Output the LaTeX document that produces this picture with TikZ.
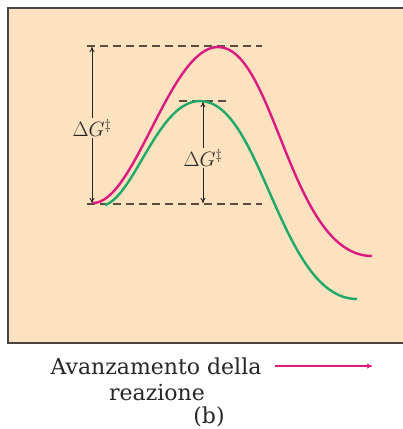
\documentclass[tikz,border=0pt]{standalone}
\usepackage{fontspec}
\newfontfamily\capfont{DejaVu Serif}
\usetikzlibrary{arrows.meta}
\definecolor{peach}{HTML}{FCE2BF}
\definecolor{framegray}{HTML}{4A4540}
\definecolor{dashbrown}{HTML}{5A4D40}
\definecolor{mag}{HTML}{DD1A82}
\definecolor{grn}{HTML}{1DAA68}
\definecolor{txt}{HTML}{262626}
\tikzset{
  levelline/.style={draw=dashbrown, line width=1.4pt, dash pattern=on 8pt off 5pt},
  curvem/.style={draw=mag, line width=2.4pt},
  curveg/.style={draw=grn, line width=2.4pt},
  dgarrow/.style={draw=txt, line width=0.9pt, -{To[length=5pt,width=5pt]}},
  dglabel/.style={inner sep=1pt, text=txt, font=\fontsize{21.5}{24}\selectfont},
  captxt/.style={inner sep=0pt, font=\capfont\fontsize{22}{26}\selectfont, text=txt}
}
\begin{document}
\begin{tikzpicture}[x=1pt,y=-1pt]
\useasboundingbox (0,0) rectangle (403,429);
\begin{scope}
\clip (0,0) rectangle (403,429);
\draw[framegray, line width=1.6pt, fill=peach] (8,8) rectangle (410,343);
\end{scope}
% level lines
\coordinate (topL) at (87,46);
\coordinate (topR) at (262,46);
\coordinate (midL) at (179,101);
\coordinate (midR) at (227,101);
\coordinate (botL) at (87,204);
\coordinate (botR) at (262,204);
\draw[levelline] (topL) -- (topR);
\draw[levelline] (midL) -- (midR);
\draw[levelline] (botL) -- (botR);
% curves
\draw[curvem] (93,203) .. controls (135,203) and (170,47) .. (218,47)
                       .. controls (275,47) and (290,256) .. (372,256);
\draw[curveg] (105,205) .. controls (135,195) and (158,101) .. (200,101)
                        .. controls (262,101) and (280,299) .. (357,299);
% delta G labels and arrows
\node[dglabel] (dgL) at (92,128) {$\Delta G^{\ddagger}$};
\node[dglabel] (dgM) at (203,158) {$\Delta G^{\ddagger}$};
\coordinate (aLt) at (92,47);
\coordinate (aLb) at (92,203);
\coordinate (aMt) at (203,102);
\coordinate (aMb) at (203,203);
\draw[dgarrow] (dgL.north) -- (aLt);
\draw[dgarrow] (dgL.south) -- (aLb);
\draw[dgarrow] (dgM.north) -- (aMt);
\draw[dgarrow] (dgM.south) -- (aMb);
% caption
\node[captxt, anchor=base] (cap1) at (156,374) {Avanzamento della};
\node[captxt, anchor=base] (cap2) at (157,400) {reazione};
\node[captxt, anchor=base] (cap3) at (209,423) {(b)};
\coordinate (arrStart) at (275,366);
\coordinate (arrEnd) at (372,366);
\draw[draw=mag, line width=1.1pt, -{To[length=5pt,width=5pt]}] (arrStart) -- (arrEnd);
\end{tikzpicture}
\end{document}
